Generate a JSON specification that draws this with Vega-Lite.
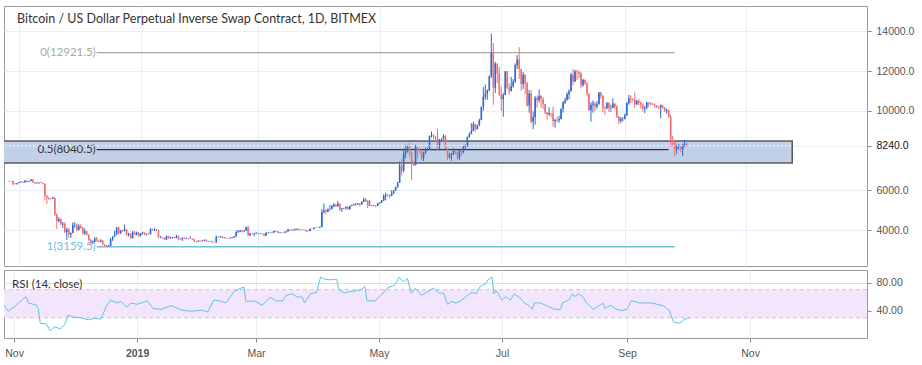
{
"$schema": "https://vega.github.io/schema/vega-lite/v6.json",
"padding": {"left": 2, "top": 5, "right": 0, "bottom": 0},
"background": "white",
"spacing": 2,
"datasets": {
"ohlc": [
{"d":"2018-10-27","o":6460,"h":6480,"l":6440,"c":6470},
{"d":"2018-10-28","o":6470,"h":6490,"l":6440,"c":6460},
{"d":"2018-10-29","o":6460,"h":6470,"l":6250,"c":6330},
{"d":"2018-10-30","o":6330,"h":6360,"l":6300,"c":6330},
{"d":"2018-10-31","o":6330,"h":6370,"l":6280,"c":6360},
{"d":"2018-11-01","o":6360,"h":6420,"l":6350,"c":6400},
{"d":"2018-11-02","o":6400,"h":6460,"l":6390,"c":6430},
{"d":"2018-11-03","o":6430,"h":6440,"l":6370,"c":6400},
{"d":"2018-11-04","o":6400,"h":6520,"l":6380,"c":6480},
{"d":"2018-11-05","o":6480,"h":6490,"l":6400,"c":6430},
{"d":"2018-11-06","o":6430,"h":6470,"l":6410,"c":6460},
{"d":"2018-11-07","o":6460,"h":6570,"l":6450,"c":6540},
{"d":"2018-11-08","o":6540,"h":6550,"l":6380,"c":6410},
{"d":"2018-11-09","o":6410,"h":6420,"l":6320,"c":6350},
{"d":"2018-11-10","o":6350,"h":6400,"l":6340,"c":6380},
{"d":"2018-11-11","o":6380,"h":6410,"l":6320,"c":6390},
{"d":"2018-11-12","o":6390,"h":6420,"l":6360,"c":6370},
{"d":"2018-11-13","o":6370,"h":6390,"l":6300,"c":6330},
{"d":"2018-11-14","o":6330,"h":6340,"l":5500,"c":5720},
{"d":"2018-11-15","o":5720,"h":5760,"l":5320,"c":5640},
{"d":"2018-11-16","o":5640,"h":5650,"l":5500,"c":5590},
{"d":"2018-11-17","o":5590,"h":5600,"l":5540,"c":5570},
{"d":"2018-11-18","o":5570,"h":5680,"l":5560,"c":5620},
{"d":"2018-11-19","o":5620,"h":5630,"l":4700,"c":4780},
{"d":"2018-11-20","o":4780,"h":4850,"l":4050,"c":4460},
{"d":"2018-11-21","o":4460,"h":4650,"l":4380,"c":4550},
{"d":"2018-11-22","o":4550,"h":4580,"l":4250,"c":4280},
{"d":"2018-11-23","o":4280,"h":4410,"l":4100,"c":4310},
{"d":"2018-11-24","o":4310,"h":4390,"l":3850,"c":3900},
{"d":"2018-11-25","o":3900,"h":4120,"l":3500,"c":4020},
{"d":"2018-11-26","o":4020,"h":4100,"l":3620,"c":3770},
{"d":"2018-11-27","o":3770,"h":3880,"l":3600,"c":3850},
{"d":"2018-11-28","o":3850,"h":4380,"l":3840,"c":4260},
{"d":"2018-11-29","o":4260,"h":4400,"l":4110,"c":4260},
{"d":"2018-11-30","o":4260,"h":4320,"l":3930,"c":4000},
{"d":"2018-12-01","o":4000,"h":4300,"l":3980,"c":4200},
{"d":"2018-12-02","o":4200,"h":4290,"l":4060,"c":4130},
{"d":"2018-12-03","o":4130,"h":4150,"l":3780,"c":3830},
{"d":"2018-12-04","o":3830,"h":4080,"l":3740,"c":3940},
{"d":"2018-12-05","o":3940,"h":3950,"l":3740,"c":3760},
{"d":"2018-12-06","o":3760,"h":3790,"l":3450,"c":3500},
{"d":"2018-12-07","o":3500,"h":3560,"l":3250,"c":3380},
{"d":"2018-12-08","o":3380,"h":3480,"l":3300,"c":3410},
{"d":"2018-12-09","o":3410,"h":3650,"l":3390,"c":3570},
{"d":"2018-12-10","o":3570,"h":3640,"l":3430,"c":3440},
{"d":"2018-12-11","o":3440,"h":3480,"l":3370,"c":3400},
{"d":"2018-12-12","o":3400,"h":3540,"l":3390,"c":3480},
{"d":"2018-12-13","o":3480,"h":3490,"l":3240,"c":3260},
{"d":"2018-12-14","o":3260,"h":3290,"l":3160,"c":3200},
{"d":"2018-12-15","o":3200,"h":3240,"l":3160,"c":3180},
{"d":"2018-12-16","o":3180,"h":3260,"l":3170,"c":3210},
{"d":"2018-12-17","o":3210,"h":3600,"l":3200,"c":3530},
{"d":"2018-12-18","o":3530,"h":3690,"l":3440,"c":3670},
{"d":"2018-12-19","o":3670,"h":3960,"l":3660,"c":3780},
{"d":"2018-12-20","o":3780,"h":4150,"l":3760,"c":4120},
{"d":"2018-12-21","o":4120,"h":4180,"l":3800,"c":3840},
{"d":"2018-12-22","o":3840,"h":4000,"l":3800,"c":3980},
{"d":"2018-12-23","o":3980,"h":4020,"l":3900,"c":3940},
{"d":"2018-12-24","o":3940,"h":4270,"l":3930,"c":4030},
{"d":"2018-12-25","o":4030,"h":4040,"l":3700,"c":3760},
{"d":"2018-12-26","o":3760,"h":3860,"l":3680,"c":3800},
{"d":"2018-12-27","o":3800,"h":3840,"l":3560,"c":3590},
{"d":"2018-12-28","o":3590,"h":3950,"l":3580,"c":3880},
{"d":"2018-12-29","o":3880,"h":3950,"l":3750,"c":3760},
{"d":"2018-12-30","o":3760,"h":3920,"l":3740,"c":3880},
{"d":"2018-12-31","o":3880,"h":3890,"l":3660,"c":3700},
{"d":"2019-01-01","o":3700,"h":3850,"l":3680,"c":3830},
{"d":"2019-01-02","o":3830,"h":3910,"l":3780,"c":3880},
{"d":"2019-01-03","o":3880,"h":3880,"l":3740,"c":3770},
{"d":"2019-01-04","o":3770,"h":3820,"l":3730,"c":3800},
{"d":"2019-01-05","o":3800,"h":3870,"l":3780,"c":3790},
{"d":"2019-01-06","o":3790,"h":4100,"l":3770,"c":4040},
{"d":"2019-01-07","o":4040,"h":4070,"l":3960,"c":3990},
{"d":"2019-01-08","o":3990,"h":4100,"l":3940,"c":3990},
{"d":"2019-01-09","o":3990,"h":4050,"l":3970,"c":4000},
{"d":"2019-01-10","o":4000,"h":4020,"l":3590,"c":3640},
{"d":"2019-01-11","o":3640,"h":3700,"l":3590,"c":3640},
{"d":"2019-01-12","o":3640,"h":3650,"l":3560,"c":3600},
{"d":"2019-01-13","o":3600,"h":3620,"l":3500,"c":3520},
{"d":"2019-01-14","o":3520,"h":3730,"l":3510,"c":3690},
{"d":"2019-01-15","o":3690,"h":3720,"l":3560,"c":3580},
{"d":"2019-01-16","o":3580,"h":3680,"l":3570,"c":3620},
{"d":"2019-01-17","o":3620,"h":3660,"l":3560,"c":3640},
{"d":"2019-01-18","o":3640,"h":3650,"l":3580,"c":3600},
{"d":"2019-01-19","o":3600,"h":3760,"l":3590,"c":3690},
{"d":"2019-01-20","o":3690,"h":3720,"l":3500,"c":3540},
{"d":"2019-01-21","o":3540,"h":3570,"l":3500,"c":3550},
{"d":"2019-01-22","o":3550,"h":3630,"l":3450,"c":3600},
{"d":"2019-01-23","o":3600,"h":3620,"l":3540,"c":3560},
{"d":"2019-01-24","o":3560,"h":3610,"l":3540,"c":3590},
{"d":"2019-01-25","o":3590,"h":3600,"l":3540,"c":3580},
{"d":"2019-01-26","o":3580,"h":3680,"l":3570,"c":3580},
{"d":"2019-01-27","o":3580,"h":3600,"l":3500,"c":3540},
{"d":"2019-01-28","o":3540,"h":3550,"l":3390,"c":3440},
{"d":"2019-01-29","o":3440,"h":3450,"l":3380,"c":3410},
{"d":"2019-01-30","o":3410,"h":3490,"l":3400,"c":3460},
{"d":"2019-01-31","o":3460,"h":3480,"l":3420,"c":3440},
{"d":"2019-02-01","o":3440,"h":3490,"l":3420,"c":3470},
{"d":"2019-02-02","o":3470,"h":3520,"l":3450,"c":3510},
{"d":"2019-02-03","o":3510,"h":3520,"l":3400,"c":3420},
{"d":"2019-02-04","o":3420,"h":3450,"l":3410,"c":3430},
{"d":"2019-02-05","o":3430,"h":3460,"l":3420,"c":3440},
{"d":"2019-02-06","o":3440,"h":3450,"l":3360,"c":3390},
{"d":"2019-02-07","o":3390,"h":3410,"l":3370,"c":3380},
{"d":"2019-02-08","o":3380,"h":3720,"l":3370,"c":3650},
{"d":"2019-02-09","o":3650,"h":3670,"l":3620,"c":3650},
{"d":"2019-02-10","o":3650,"h":3690,"l":3620,"c":3680},
{"d":"2019-02-11","o":3680,"h":3680,"l":3600,"c":3610},
{"d":"2019-02-12","o":3610,"h":3640,"l":3570,"c":3620},
{"d":"2019-02-13","o":3620,"h":3650,"l":3580,"c":3600},
{"d":"2019-02-14","o":3600,"h":3610,"l":3560,"c":3580},
{"d":"2019-02-15","o":3580,"h":3650,"l":3570,"c":3600},
{"d":"2019-02-16","o":3600,"h":3650,"l":3590,"c":3630},
{"d":"2019-02-17","o":3630,"h":3700,"l":3600,"c":3680},
{"d":"2019-02-18","o":3680,"h":3970,"l":3670,"c":3900},
{"d":"2019-02-19","o":3900,"h":4000,"l":3850,"c":3920},
{"d":"2019-02-20","o":3920,"h":3990,"l":3890,"c":3970},
{"d":"2019-02-21","o":3970,"h":4010,"l":3880,"c":3930},
{"d":"2019-02-22","o":3930,"h":3990,"l":3920,"c":3980},
{"d":"2019-02-23","o":3980,"h":4180,"l":3950,"c":4130},
{"d":"2019-02-24","o":4130,"h":4200,"l":3700,"c":3730},
{"d":"2019-02-25","o":3730,"h":3850,"l":3720,"c":3830},
{"d":"2019-02-26","o":3830,"h":3840,"l":3780,"c":3810},
{"d":"2019-02-27","o":3810,"h":3850,"l":3690,"c":3820},
{"d":"2019-02-28","o":3820,"h":3900,"l":3780,"c":3820},
{"d":"2019-03-01","o":3820,"h":3860,"l":3810,"c":3830},
{"d":"2019-03-02","o":3830,"h":3850,"l":3790,"c":3830},
{"d":"2019-03-03","o":3830,"h":3840,"l":3770,"c":3800},
{"d":"2019-03-04","o":3800,"h":3810,"l":3690,"c":3710},
{"d":"2019-03-05","o":3710,"h":3880,"l":3700,"c":3860},
{"d":"2019-03-06","o":3860,"h":3890,"l":3820,"c":3870},
{"d":"2019-03-07","o":3870,"h":3900,"l":3850,"c":3880},
{"d":"2019-03-08","o":3880,"h":3930,"l":3820,"c":3870},
{"d":"2019-03-09","o":3870,"h":3970,"l":3860,"c":3950},
{"d":"2019-03-10","o":3950,"h":3950,"l":3900,"c":3930},
{"d":"2019-03-11","o":3930,"h":3940,"l":3850,"c":3860},
{"d":"2019-03-12","o":3860,"h":3900,"l":3830,"c":3880},
{"d":"2019-03-13","o":3880,"h":3890,"l":3850,"c":3870},
{"d":"2019-03-14","o":3870,"h":3920,"l":3830,"c":3880},
{"d":"2019-03-15","o":3880,"h":3950,"l":3870,"c":3930},
{"d":"2019-03-16","o":3930,"h":4060,"l":3920,"c":4020},
{"d":"2019-03-17","o":4020,"h":4030,"l":3970,"c":3990},
{"d":"2019-03-18","o":3990,"h":4040,"l":3970,"c":3990},
{"d":"2019-03-19","o":3990,"h":4050,"l":3980,"c":4030},
{"d":"2019-03-20","o":4030,"h":4080,"l":4010,"c":4060},
{"d":"2019-03-21","o":4060,"h":4080,"l":3960,"c":4000},
{"d":"2019-03-22","o":4000,"h":4030,"l":3990,"c":4010},
{"d":"2019-03-23","o":4010,"h":4030,"l":4000,"c":4020},
{"d":"2019-03-24","o":4020,"h":4030,"l":3990,"c":4000},
{"d":"2019-03-25","o":4000,"h":4010,"l":3910,"c":3940},
{"d":"2019-03-26","o":3940,"h":3970,"l":3930,"c":3950},
{"d":"2019-03-27","o":3950,"h":4070,"l":3940,"c":4060},
{"d":"2019-03-28","o":4060,"h":4070,"l":4030,"c":4050},
{"d":"2019-03-29","o":4050,"h":4130,"l":4040,"c":4110},
{"d":"2019-03-30","o":4110,"h":4140,"l":4100,"c":4120},
{"d":"2019-03-31","o":4120,"h":4130,"l":4100,"c":4120},
{"d":"2019-04-01","o":4120,"h":4180,"l":4110,"c":4160},
{"d":"2019-04-02","o":4160,"h":5050,"l":4150,"c":4900},
{"d":"2019-04-03","o":4900,"h":5350,"l":4850,"c":4980},
{"d":"2019-04-04","o":4980,"h":5060,"l":4790,"c":4920},
{"d":"2019-04-05","o":4920,"h":5080,"l":4910,"c":5040},
{"d":"2019-04-06","o":5040,"h":5250,"l":4990,"c":5060},
{"d":"2019-04-07","o":5060,"h":5260,"l":5040,"c":5200},
{"d":"2019-04-08","o":5200,"h":5350,"l":5150,"c":5280},
{"d":"2019-04-09","o":5280,"h":5290,"l":5150,"c":5190},
{"d":"2019-04-10","o":5190,"h":5470,"l":5170,"c":5320},
{"d":"2019-04-11","o":5320,"h":5340,"l":4950,"c":5040},
{"d":"2019-04-12","o":5040,"h":5110,"l":4920,"c":5080},
{"d":"2019-04-13","o":5080,"h":5120,"l":5050,"c":5090},
{"d":"2019-04-14","o":5090,"h":5180,"l":5030,"c":5170},
{"d":"2019-04-15","o":5170,"h":5190,"l":5000,"c":5040},
{"d":"2019-04-16","o":5040,"h":5230,"l":5030,"c":5210},
{"d":"2019-04-17","o":5210,"h":5290,"l":5200,"c":5250},
{"d":"2019-04-18","o":5250,"h":5320,"l":5240,"c":5290},
{"d":"2019-04-19","o":5290,"h":5360,"l":5220,"c":5290},
{"d":"2019-04-20","o":5290,"h":5350,"l":5260,"c":5340},
{"d":"2019-04-21","o":5340,"h":5350,"l":5200,"c":5290},
{"d":"2019-04-22","o":5290,"h":5450,"l":5270,"c":5420},
{"d":"2019-04-23","o":5420,"h":5640,"l":5400,"c":5540},
{"d":"2019-04-24","o":5540,"h":5620,"l":5400,"c":5460},
{"d":"2019-04-25","o":5460,"h":5510,"l":5100,"c":5230},
{"d":"2019-04-26","o":5230,"h":5500,"l":5200,"c":5230},
{"d":"2019-04-27","o":5230,"h":5260,"l":5200,"c":5240},
{"d":"2019-04-28","o":5240,"h":5270,"l":5200,"c":5250},
{"d":"2019-04-29","o":5250,"h":5260,"l":5150,"c":5220},
{"d":"2019-04-30","o":5220,"h":5370,"l":5200,"c":5340},
{"d":"2019-05-01","o":5340,"h":5400,"l":5320,"c":5380},
{"d":"2019-05-02","o":5380,"h":5510,"l":5370,"c":5480},
{"d":"2019-05-03","o":5480,"h":5800,"l":5470,"c":5720},
{"d":"2019-05-04","o":5720,"h":5880,"l":5500,"c":5780},
{"d":"2019-05-05","o":5780,"h":5800,"l":5680,"c":5770},
{"d":"2019-05-06","o":5770,"h":5780,"l":5600,"c":5720},
{"d":"2019-05-07","o":5720,"h":6000,"l":5700,"c":5860},
{"d":"2019-05-08","o":5860,"h":6000,"l":5800,"c":5980},
{"d":"2019-05-09","o":5980,"h":6180,"l":5970,"c":6160},
{"d":"2019-05-10","o":6160,"h":6430,"l":6130,"c":6380},
{"d":"2019-05-11","o":6380,"h":7450,"l":6370,"c":7260},
{"d":"2019-05-12","o":7260,"h":7550,"l":6750,"c":6990},
{"d":"2019-05-13","o":6990,"h":8100,"l":6900,"c":7830},
{"d":"2019-05-14","o":7830,"h":8300,"l":7620,"c":7990},
{"d":"2019-05-15","o":7990,"h":8240,"l":7900,"c":8200},
{"d":"2019-05-16","o":8200,"h":8400,"l":7680,"c":7890},
{"d":"2019-05-17","o":7890,"h":7950,"l":6500,"c":7350},
{"d":"2019-05-18","o":7350,"h":7480,"l":7230,"c":7260},
{"d":"2019-05-19","o":7260,"h":8290,"l":7250,"c":8190},
{"d":"2019-05-20","o":8190,"h":8200,"l":7600,"c":7980},
{"d":"2019-05-21","o":7980,"h":8100,"l":7840,"c":7950},
{"d":"2019-05-22","o":7950,"h":8030,"l":7500,"c":7620},
{"d":"2019-05-23","o":7620,"h":7950,"l":7470,"c":7880},
{"d":"2019-05-24","o":7880,"h":8150,"l":7810,"c":8000},
{"d":"2019-05-25","o":8000,"h":8140,"l":7970,"c":8060},
{"d":"2019-05-26","o":8060,"h":8750,"l":8020,"c":8740},
{"d":"2019-05-27","o":8740,"h":8960,"l":8650,"c":8780},
{"d":"2019-05-28","o":8780,"h":8820,"l":8550,"c":8720},
{"d":"2019-05-29","o":8720,"h":8730,"l":8450,"c":8660},
{"d":"2019-05-30","o":8660,"h":9100,"l":8030,"c":8270},
{"d":"2019-05-31","o":8270,"h":8580,"l":8000,"c":8550},
{"d":"2019-06-01","o":8550,"h":8620,"l":8470,"c":8560},
{"d":"2019-06-02","o":8560,"h":8820,"l":8540,"c":8730},
{"d":"2019-06-03","o":8730,"h":8780,"l":8080,"c":8120},
{"d":"2019-06-04","o":8120,"h":8130,"l":7500,"c":7680},
{"d":"2019-06-05","o":7680,"h":7900,"l":7580,"c":7790},
{"d":"2019-06-06","o":7790,"h":7880,"l":7480,"c":7800},
{"d":"2019-06-07","o":7800,"h":8120,"l":7770,"c":7990},
{"d":"2019-06-08","o":7990,"h":8030,"l":7810,"c":7930},
{"d":"2019-06-09","o":7930,"h":7960,"l":7550,"c":7630},
{"d":"2019-06-10","o":7630,"h":8040,"l":7510,"c":8010},
{"d":"2019-06-11","o":8010,"h":8020,"l":7730,"c":7920},
{"d":"2019-06-12","o":7920,"h":8230,"l":7850,"c":8160},
{"d":"2019-06-13","o":8160,"h":8300,"l":8050,"c":8230},
{"d":"2019-06-14","o":8230,"h":8700,"l":8200,"c":8690},
{"d":"2019-06-15","o":8690,"h":8900,"l":8640,"c":8850},
{"d":"2019-06-16","o":8850,"h":9380,"l":8820,"c":8980},
{"d":"2019-06-17","o":8980,"h":9450,"l":8970,"c":9330},
{"d":"2019-06-18","o":9330,"h":9350,"l":8950,"c":9080},
{"d":"2019-06-19","o":9080,"h":9300,"l":9060,"c":9280},
{"d":"2019-06-20","o":9280,"h":9600,"l":9230,"c":9530},
{"d":"2019-06-21","o":9530,"h":10200,"l":9520,"c":10200},
{"d":"2019-06-22","o":10200,"h":11200,"l":10000,"c":10700},
{"d":"2019-06-23","o":10700,"h":11320,"l":10560,"c":10860},
{"d":"2019-06-24","o":10860,"h":11080,"l":10550,"c":11020},
{"d":"2019-06-25","o":11020,"h":11770,"l":10990,"c":11740},
{"d":"2019-06-26","o":11740,"h":13880,"l":11650,"c":12930},
{"d":"2019-06-27","o":12930,"h":13400,"l":10300,"c":11160},
{"d":"2019-06-28","o":11160,"h":12450,"l":10900,"c":12370},
{"d":"2019-06-29","o":12370,"h":12380,"l":11400,"c":11880},
{"d":"2019-06-30","o":11880,"h":12200,"l":10750,"c":10820},
{"d":"2019-07-01","o":10820,"h":11200,"l":10000,"c":10580},
{"d":"2019-07-02","o":10580,"h":10900,"l":9700,"c":10800},
{"d":"2019-07-03","o":10800,"h":12000,"l":10790,"c":11980},
{"d":"2019-07-04","o":11980,"h":12000,"l":11100,"c":11170},
{"d":"2019-07-05","o":11170,"h":11390,"l":10800,"c":10990},
{"d":"2019-07-06","o":10990,"h":11700,"l":10970,"c":11240},
{"d":"2019-07-07","o":11240,"h":11600,"l":11150,"c":11480},
{"d":"2019-07-08","o":11480,"h":12380,"l":11400,"c":12300},
{"d":"2019-07-09","o":12300,"h":12800,"l":12100,"c":12580},
{"d":"2019-07-10","o":12580,"h":13200,"l":11600,"c":12100},
{"d":"2019-07-11","o":12100,"h":12100,"l":11000,"c":11350},
{"d":"2019-07-12","o":11350,"h":11950,"l":11100,"c":11810},
{"d":"2019-07-13","o":11810,"h":11830,"l":10850,"c":11390},
{"d":"2019-07-14","o":11390,"h":11450,"l":10200,"c":10260},
{"d":"2019-07-15","o":10260,"h":11050,"l":9900,"c":10870},
{"d":"2019-07-16","o":10870,"h":11030,"l":9370,"c":9450},
{"d":"2019-07-17","o":9450,"h":9970,"l":9070,"c":9690},
{"d":"2019-07-18","o":9690,"h":10740,"l":9300,"c":10640},
{"d":"2019-07-19","o":10640,"h":10760,"l":10130,"c":10530},
{"d":"2019-07-20","o":10530,"h":11080,"l":10420,"c":10760},
{"d":"2019-07-21","o":10760,"h":10780,"l":10150,"c":10590},
{"d":"2019-07-22","o":10590,"h":10680,"l":10080,"c":10330},
{"d":"2019-07-23","o":10330,"h":10340,"l":9830,"c":9910},
{"d":"2019-07-24","o":9910,"h":9930,"l":9560,"c":9830},
{"d":"2019-07-25","o":9830,"h":10180,"l":9750,"c":9890},
{"d":"2019-07-26","o":9890,"h":9900,"l":9660,"c":9870},
{"d":"2019-07-27","o":9870,"h":10200,"l":9200,"c":9480},
{"d":"2019-07-28","o":9480,"h":9600,"l":9150,"c":9530},
{"d":"2019-07-29","o":9530,"h":9700,"l":9420,"c":9520},
{"d":"2019-07-30","o":9520,"h":9740,"l":9400,"c":9590},
{"d":"2019-07-31","o":9590,"h":10120,"l":9570,"c":10090},
{"d":"2019-08-01","o":10090,"h":10480,"l":9900,"c":10400},
{"d":"2019-08-02","o":10400,"h":10660,"l":10340,"c":10530},
{"d":"2019-08-03","o":10530,"h":10930,"l":10520,"c":10830},
{"d":"2019-08-04","o":10830,"h":11080,"l":10570,"c":10980},
{"d":"2019-08-05","o":10980,"h":11900,"l":10970,"c":11810},
{"d":"2019-08-06","o":11810,"h":12100,"l":11280,"c":11470},
{"d":"2019-08-07","o":11470,"h":12070,"l":11440,"c":11980},
{"d":"2019-08-08","o":11980,"h":12060,"l":11550,"c":11960},
{"d":"2019-08-09","o":11960,"h":12020,"l":11640,"c":11860},
{"d":"2019-08-10","o":11860,"h":11950,"l":11140,"c":11290},
{"d":"2019-08-11","o":11290,"h":11600,"l":11200,"c":11560},
{"d":"2019-08-12","o":11560,"h":11560,"l":11300,"c":11390},
{"d":"2019-08-13","o":11390,"h":11440,"l":10760,"c":10860},
{"d":"2019-08-14","o":10860,"h":10880,"l":10000,"c":10030},
{"d":"2019-08-15","o":10030,"h":10430,"l":9450,"c":10300},
{"d":"2019-08-16","o":10300,"h":10520,"l":9900,"c":10360},
{"d":"2019-08-17","o":10360,"h":10450,"l":9980,"c":10220},
{"d":"2019-08-18","o":10220,"h":10480,"l":10100,"c":10330},
{"d":"2019-08-19","o":10330,"h":10940,"l":10310,"c":10920},
{"d":"2019-08-20","o":10920,"h":10950,"l":10600,"c":10760},
{"d":"2019-08-21","o":10760,"h":10780,"l":9920,"c":10140},
{"d":"2019-08-22","o":10140,"h":10240,"l":9800,"c":10130},
{"d":"2019-08-23","o":10130,"h":10420,"l":10070,"c":10400},
{"d":"2019-08-24","o":10400,"h":10420,"l":9930,"c":10140},
{"d":"2019-08-25","o":10140,"h":10300,"l":9950,"c":10140},
{"d":"2019-08-26","o":10140,"h":10630,"l":10130,"c":10370},
{"d":"2019-08-27","o":10370,"h":10380,"l":10050,"c":10200},
{"d":"2019-08-28","o":10200,"h":10290,"l":9630,"c":9720},
{"d":"2019-08-29","o":9720,"h":9730,"l":9320,"c":9480},
{"d":"2019-08-30","o":9480,"h":9690,"l":9380,"c":9590},
{"d":"2019-08-31","o":9590,"h":9680,"l":9460,"c":9600},
{"d":"2019-09-01","o":9600,"h":9860,"l":9560,"c":9760},
{"d":"2019-09-02","o":9760,"h":10440,"l":9750,"c":10380},
{"d":"2019-09-03","o":10380,"h":10800,"l":10300,"c":10620},
{"d":"2019-09-04","o":10620,"h":10780,"l":10390,"c":10580},
{"d":"2019-09-05","o":10580,"h":10640,"l":10420,"c":10570},
{"d":"2019-09-06","o":10570,"h":10920,"l":10150,"c":10320},
{"d":"2019-09-07","o":10320,"h":10550,"l":10300,"c":10490},
{"d":"2019-09-08","o":10490,"h":10600,"l":10290,"c":10400},
{"d":"2019-09-09","o":10400,"h":10480,"l":10110,"c":10320},
{"d":"2019-09-10","o":10320,"h":10390,"l":9960,"c":10120},
{"d":"2019-09-11","o":10120,"h":10240,"l":9870,"c":10160},
{"d":"2019-09-12","o":10160,"h":10450,"l":10060,"c":10420},
{"d":"2019-09-13","o":10420,"h":10430,"l":10180,"c":10360},
{"d":"2019-09-14","o":10360,"h":10420,"l":10290,"c":10360},
{"d":"2019-09-15","o":10360,"h":10390,"l":10270,"c":10310},
{"d":"2019-09-16","o":10310,"h":10350,"l":10130,"c":10270},
{"d":"2019-09-17","o":10270,"h":10290,"l":10120,"c":10190},
{"d":"2019-09-18","o":10190,"h":10250,"l":10100,"c":10160},
{"d":"2019-09-19","o":10160,"h":10320,"l":9620,"c":10280},
{"d":"2019-09-20","o":10280,"h":10300,"l":10080,"c":10170},
{"d":"2019-09-21","o":10170,"h":10170,"l":9950,"c":9990},
{"d":"2019-09-22","o":9990,"h":10100,"l":9850,"c":10030},
{"d":"2019-09-23","o":10030,"h":10040,"l":9650,"c":9690},
{"d":"2019-09-24","o":9690,"h":9800,"l":8200,"c":8530},
{"d":"2019-09-25","o":8530,"h":8740,"l":8250,"c":8430},
{"d":"2019-09-26","o":8430,"h":8460,"l":7700,"c":8070},
{"d":"2019-09-27","o":8070,"h":8280,"l":7840,"c":8190},
{"d":"2019-09-28","o":8190,"h":8330,"l":8050,"c":8200},
{"d":"2019-09-29","o":8200,"h":8210,"l":7900,"c":8050},
{"d":"2019-09-30","o":8050,"h":8340,"l":7720,"c":8300},
{"d":"2019-10-01","o":8300,"h":8520,"l":8200,"c":8340},
{"d":"2019-10-02","o":8340,"h":8380,"l":8190,"c":8240}
],
"rsi": [
{"d":"2018-10-27","v":48},{"d":"2018-10-29","v":39},{"d":"2018-11-01","v":45},{"d":"2018-11-04","v":53},{"d":"2018-11-07","v":60},{"d":"2018-11-08","v":51},{"d":"2018-11-12","v":48},{"d":"2018-11-13","v":43},{"d":"2018-11-14","v":22},{"d":"2018-11-17","v":21},{"d":"2018-11-19","v":11},{"d":"2018-11-21","v":17},{"d":"2018-11-24","v":14},{"d":"2018-11-26","v":20},{"d":"2018-11-28","v":34},{"d":"2018-11-30","v":31},{"d":"2018-12-04","v":30},{"d":"2018-12-08","v":27},{"d":"2018-12-11","v":29},{"d":"2018-12-14","v":28},{"d":"2018-12-17","v":48},{"d":"2018-12-19","v":55},{"d":"2018-12-22","v":51},{"d":"2018-12-24","v":53},{"d":"2018-12-27","v":45},{"d":"2018-12-29","v":51},
{"d":"2019-01-01","v":49},{"d":"2019-01-06","v":54},{"d":"2019-01-09","v":43},{"d":"2019-01-13","v":42},{"d":"2019-01-18","v":47},{"d":"2019-01-23","v":41},{"d":"2019-01-28","v":39},{"d":"2019-02-02","v":41},{"d":"2019-02-05","v":38},{"d":"2019-02-08","v":55},{"d":"2019-02-11","v":54},{"d":"2019-02-14","v":51},{"d":"2019-02-18","v":67},{"d":"2019-02-20","v":70},{"d":"2019-02-23","v":74},{"d":"2019-02-24","v":53},{"d":"2019-02-28","v":54},
{"d":"2019-03-04","v":48},{"d":"2019-03-08","v":59},{"d":"2019-03-11","v":54},{"d":"2019-03-14","v":54},{"d":"2019-03-16","v":62},{"d":"2019-03-19","v":64},{"d":"2019-03-21","v":60},{"d":"2019-03-24","v":59},{"d":"2019-03-25","v":51},{"d":"2019-03-28","v":64},{"d":"2019-03-31","v":66},
{"d":"2019-04-02","v":88},{"d":"2019-04-04","v":85},{"d":"2019-04-07","v":84},{"d":"2019-04-10","v":85},{"d":"2019-04-11","v":70},{"d":"2019-04-14","v":65},{"d":"2019-04-16","v":67},{"d":"2019-04-19","v":68},{"d":"2019-04-22","v":70},{"d":"2019-04-24","v":74},{"d":"2019-04-25","v":54},{"d":"2019-04-29","v":54},
{"d":"2019-05-02","v":62},{"d":"2019-05-05","v":72},{"d":"2019-05-09","v":77},{"d":"2019-05-11","v":88},{"d":"2019-05-13","v":81},{"d":"2019-05-15","v":86},{"d":"2019-05-17","v":65},{"d":"2019-05-19","v":72},{"d":"2019-05-22","v":62},{"d":"2019-05-25","v":67},{"d":"2019-05-28","v":72},{"d":"2019-05-31","v":65},
{"d":"2019-06-02","v":65},{"d":"2019-06-04","v":49},{"d":"2019-06-06","v":53},{"d":"2019-06-08","v":51},{"d":"2019-06-10","v":53},{"d":"2019-06-14","v":62},{"d":"2019-06-16","v":66},{"d":"2019-06-18","v":64},{"d":"2019-06-20","v":74},{"d":"2019-06-23","v":79},{"d":"2019-06-24","v":84},{"d":"2019-06-26","v":88},{"d":"2019-06-27","v":64},{"d":"2019-06-28","v":69},
{"d":"2019-07-01","v":55},{"d":"2019-07-03","v":60},{"d":"2019-07-05","v":55},{"d":"2019-07-07","v":64},{"d":"2019-07-10","v":58},{"d":"2019-07-12","v":51},{"d":"2019-07-14","v":48},{"d":"2019-07-16","v":42},{"d":"2019-07-17","v":51},{"d":"2019-07-20","v":51},{"d":"2019-07-23","v":47},{"d":"2019-07-27","v":42},{"d":"2019-07-30","v":42},{"d":"2019-07-31","v":51},
{"d":"2019-08-03","v":55},{"d":"2019-08-05","v":64},{"d":"2019-08-06","v":60},{"d":"2019-08-08","v":64},{"d":"2019-08-10","v":60},{"d":"2019-08-12","v":51},{"d":"2019-08-15","v":42},{"d":"2019-08-17","v":45},{"d":"2019-08-20","v":51},{"d":"2019-08-21","v":43},{"d":"2019-08-24","v":48},{"d":"2019-08-26","v":43},{"d":"2019-08-29","v":40},
{"d":"2019-09-01","v":42},{"d":"2019-09-03","v":54},{"d":"2019-09-05","v":53},{"d":"2019-09-07","v":51},{"d":"2019-09-09","v":51},{"d":"2019-09-13","v":51},{"d":"2019-09-16","v":49},{"d":"2019-09-19","v":47},{"d":"2019-09-22","v":40},{"d":"2019-09-24","v":24},{"d":"2019-09-27","v":22},{"d":"2019-09-29","v":27},{"d":"2019-10-01","v":29},{"d":"2019-10-02","v":30}
],
"fib": [
{"lvl":"0","price":12921.5,"label":"0(12921.5)","s":"2018-12-10","e":"2019-09-26"},
{"lvl":"0.5","price":8040.5,"label":"0.5(8040.5)","s":"2018-12-10","e":"2019-09-23"},
{"lvl":"1","price":3159.5,"label":"1(3159.5)","s":"2018-12-10","e":"2019-09-26"}
],
"box": [{"s":"2018-10-20","e":"2019-11-24","lo":7367,"hi":8481}]
},
"resolve": {"scale": {"x": "independent", "y": "independent"}},
"vconcat": [
{
"width": 863, "height": 260,
"layer": [
{
"data": {"name": "box"},
"mark": {"type": "rect", "clip": true, "fill": "#c3d1e8", "stroke": "#5a5a5a", "strokeWidth": 1.5},
"encoding": {
"x": {"field": "s", "type": "temporal", "scale": {"type": "utc", "domain": [{"year":2018,"month":10,"date":27,"utc":true},{"year":2019,"month":12,"date":29,"utc":true}]},
"axis": {"values": [{"year":2018,"month":11,"date":1,"utc":true},{"year":2019,"month":1,"date":1,"utc":true},{"year":2019,"month":3,"date":1,"utc":true},{"year":2019,"month":5,"date":1,"utc":true},{"year":2019,"month":7,"date":1,"utc":true},{"year":2019,"month":9,"date":1,"utc":true},{"year":2019,"month":11,"date":1,"utc":true}], "labels": false, "ticks": false, "domain": false, "title": null, "grid": true, "gridColor": "#e6eef7", "gridWidth": 1}},
"x2": {"field": "e"},
"y": {"field": "lo", "type": "quantitative", "scale": {"domain": [2190, 15270], "nice": false, "zero": false},
"axis": {"orient": "right", "values": [4000, 6000, 8240, 10000, 12000, 14000], "format": ".1f", "title": null, "domain": false, "tickSize": 4, "tickColor": "#888", "labelPadding": 5, "labelFont": "Liberation Sans", "labelFontSize": 10.5,
"labelColor": {"condition": {"test": "datum.value == 8240", "value": "#111"}, "value": "#555"},
"grid": true, "gridColor": "#e6eef7"}},
"y2": {"field": "hi"}
}
},
{
"data": {"name": "fib"},
"mark": {"type": "rule", "strokeWidth": 1.3},
"encoding": {
"x": {"field": "s", "type": "temporal"},
"x2": {"field": "e"},
"y": {"field": "price", "type": "quantitative"},
"color": {"field": "lvl", "type": "nominal", "scale": {"domain": ["0","0.5","1"], "range": ["#a8a8a8","#333333","#6cc0e0"]}, "legend": null}
}
},
{
"data": {"name": "fib"},
"mark": {"type": "text", "align": "right", "baseline": "middle", "dx": -1, "font": "Lato", "fontSize": 11.5},
"encoding": {
"x": {"field": "s", "type": "temporal"},
"y": {"field": "price", "type": "quantitative"},
"text": {"field": "label"},
"color": {"field": "lvl", "type": "nominal", "scale": {"domain": ["0","0.5","1"], "range": ["#8a8a8a","#222222","#4aa8d8"]}, "legend": null}
}
},
{
"data": {"name": "ohlc"},
"mark": {"type": "rule", "strokeWidth": 1, "clip": true},
"encoding": {
"x": {"field": "d", "type": "temporal"},
"y": {"field": "l", "type": "quantitative"},
"y2": {"field": "h"},
"color": {"condition": {"test": "datum.c >= datum.o", "value": "#3068d8"}, "value": "#ef6f6f"}
}
},
{
"data": {"name": "ohlc"},
"mark": {"type": "bar", "size": 1.6, "clip": true},
"encoding": {
"x": {"field": "d", "type": "temporal"},
"y": {"field": "o", "type": "quantitative"},
"y2": {"field": "c"},
"color": {"condition": {"test": "datum.c >= datum.o", "value": "#3068d8"}, "value": "#ef6f6f"}
}
},
{
"data": {"values": [{}]},
"mark": {"type": "rule", "color": "#ffffff", "strokeDash": [2, 2], "strokeWidth": 1, "opacity": 0.8},
"encoding": {"y": {"datum": 8240, "type": "quantitative"}}
},
{
"data": {"values": [{}]},
"mark": {"type": "text", "align": "left", "baseline": "middle", "font": "Lato", "fontSize": 12.5, "color": "#333"},
"encoding": {
"x": {"datum": {"year":2018,"month":10,"date":31,"utc":true}, "type": "temporal"},
"y": {"datum": 14620, "type": "quantitative"},
"text": {"value": "Bitcoin / US Dollar Perpetual Inverse Swap Contract, 1D, BITMEX"}
}
}
]
},
{
"width": 863, "height": 68,
"layer": [
{
"data": {"values": [{}]},
"mark": {"type": "rect", "fill": "#f3e6fc", "stroke": null},
"encoding": {
"y": {"datum": 30, "type": "quantitative", "scale": {"domain": [1, 98], "nice": false, "zero": false},
"axis": {"orient": "right", "values": [40, 80], "format": ".2f", "title": null, "domain": false, "tickSize": 4, "tickColor": "#888", "labelPadding": 5, "labelFont": "Liberation Sans", "labelFontSize": 10.5, "labelColor": "#555", "grid": true, "gridColor": "#e0dbe8"}},
"y2": {"datum": 70}
}
},
{
"data": {"values": [{}]},
"mark": {"type": "rule", "color": "#d6c8e0", "strokeDash": [4, 3], "strokeWidth": 1.2},
"encoding": {"y": {"datum": 70, "type": "quantitative"}}
},
{
"data": {"values": [{}]},
"mark": {"type": "rule", "color": "#d6c8e0", "strokeDash": [4, 3], "strokeWidth": 1.2},
"encoding": {"y": {"datum": 30, "type": "quantitative"}}
},
{
"data": {"name": "rsi"},
"mark": {"type": "line", "color": "#5ec4e6", "strokeWidth": 1, "clip": true},
"encoding": {
"x": {"field": "d", "type": "temporal", "scale": {"type": "utc", "domain": [{"year":2018,"month":10,"date":27,"utc":true},{"year":2019,"month":12,"date":29,"utc":true}]},
"axis": {"values": [{"year":2018,"month":11,"date":1,"utc":true},{"year":2019,"month":1,"date":1,"utc":true},{"year":2019,"month":3,"date":1,"utc":true},{"year":2019,"month":5,"date":1,"utc":true},{"year":2019,"month":7,"date":1,"utc":true},{"year":2019,"month":9,"date":1,"utc":true},{"year":2019,"month":11,"date":1,"utc":true}],
"labelExpr": "utcmonth(datum.value) == 0 ? utcFormat(datum.value, '%Y') : utcFormat(datum.value, '%b')",
"labelFontWeight": {"condition": {"test": "utcmonth(datum.value) == 0", "value": "bold"}, "value": "normal"},
"title": null, "domain": false, "tickSize": 4, "tickColor": "#888", "labelPadding": 6, "labelFont": "Liberation Sans", "labelFontSize": 10.5, "labelColor": "#555", "grid": true, "gridColor": "#e6eef7"}},
"y": {"field": "v", "type": "quantitative"}
}
},
{
"data": {"values": [{}]},
"mark": {"type": "text", "align": "left", "baseline": "middle", "font": "Lato", "fontSize": 11.5, "color": "#333"},
"encoding": {
"x": {"datum": {"year":2018,"month":10,"date":31,"utc":true}, "type": "temporal"},
"y": {"datum": 77, "type": "quantitative"},
"text": {"value": "RSI (14, close)"}
}
}
]
}
],
"config": {"view": {"stroke": "#9a9a9a", "strokeWidth": 1}, "font": "Lato"}
}
